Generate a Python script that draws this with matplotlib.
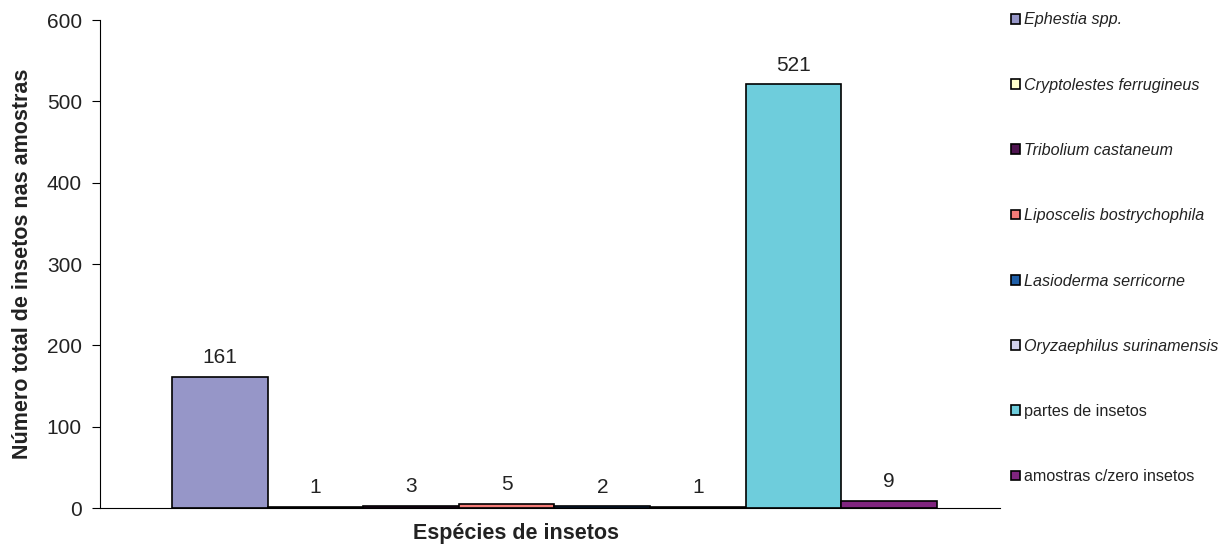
import matplotlib as mpl
mpl.use('Agg')
import matplotlib.pyplot as plt
from matplotlib.patches import Patch

plt.rcParams['font.family'] = ['Liberation Sans', 'DejaVu Sans']

## Data
species = ['Ephestia spp.', 'Cryptolestes ferrugineus', 'Tribolium castaneum',
           'Liposcelis bostrychophila', 'Lasioderma serricorne',
           'Oryzaephilus surinamensis', 'partes de insetos',
           'amostras c/zero insetos']
counts = [161, 1, 3, 5, 2, 1, 521, 9]
italic = [True, True, True, True, True, True, False, False]
colors = ['#9696C8', '#FFFFCC', '#4E1450', '#F47C78', '#1F5FA8',
          '#D0D0EC', '#6ECDDC', '#80257F']

fig = plt.figure(figsize=(12.26, 5.47), dpi=100)
ax1 = fig.add_axes([100/1226, 39/547, 900/1226, 488/547])

pos = list(range(len(counts)))
bars = ax1.bar(pos, counts, width=1.0, color=colors, edgecolor='black', linewidth=1.2)

for x, v in zip(pos, counts):
    ax1.annotate(str(v), (x, v), xytext=(0, 7), textcoords='offset points',
                 ha='center', va='bottom', fontsize=15, color='#222222')

ax1.set_xlim(-1.253, 8.16)
ax1.set_ylim(0, 600)
ax1.set_yticks(range(0, 601, 100))
ax1.set_xticks([])
ax1.tick_params(axis='y', labelsize=15, length=6, pad=7, direction='out', width=0.8,
                labelcolor='#222222')
ax1.spines['top'].set_visible(False)
ax1.spines['right'].set_visible(False)

ax1.set_ylabel('Número total de insetos nas amostras', fontsize=15.5, fontweight='bold',
               labelpad=10, color='#222222')
fig.text(516/1226, 14/547, 'Espécies de insetos', fontsize=15.5, fontweight='bold',
         ha='center', va='center', color='#222222')

## Legend
handles = [Patch(facecolor=c, edgecolor='black', linewidth=1.2) for c in colors]
leg = fig.legend(handles, species, loc='upper left', bbox_to_anchor=(1005/1226, 1 - 6/547),
                 frameon=False, fontsize=11.6, handlelength=0.55, handleheight=0.55,
                 handletextpad=0.2, labelspacing=3.12, borderaxespad=0)
for t, it in zip(leg.get_texts(), italic):
    if it:
        t.set_style('italic')
    t.set_color('#222222')

fig.savefig('out.png', dpi=100)
